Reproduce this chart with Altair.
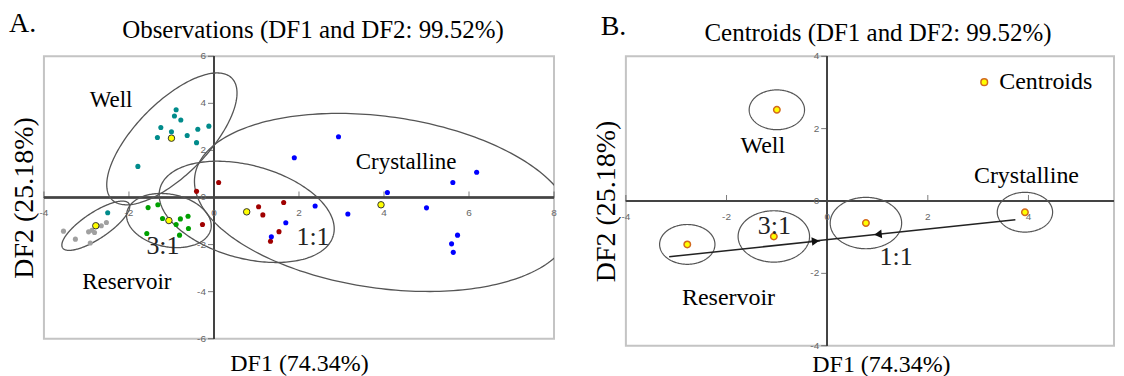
import altair as alt
import numpy as np
import pandas as pd

FONT = "Liberation Serif"
SANS = "Liberation Sans"

# ---------------- data ----------------
groups = ["Well", "Reservoir", "3:1", "1:1", "Crystalline"]
group_colors = ["#008b8b", "#a0a0a0", "#00a000", "#a00000", "#0000ff"]

well_x = [-0.89, -0.93, -0.78, -1.25, -1.00, -1.33, -0.63, -0.38, -0.12, -0.41, -1.79, -2.50]
well_y = [3.73, 3.46, 3.29, 2.97, 2.79, 2.55, 2.63, 2.90, 3.03, 2.33, 1.32, -0.65]
res_x = [-3.54, -3.26, -2.91, -2.95, -2.87, -2.81, -2.65, -2.53]
res_y = [-1.43, -1.77, -1.93, -1.46, -1.39, -1.49, -1.20, -1.06]
g31_x = [-1.55, -1.32, -1.21, -0.79, -0.61, -0.89, -1.58, -0.81, -0.60]
g31_y = [-0.43, -0.31, -0.89, -0.91, -0.80, -1.15, -1.53, -1.60, -1.32]
g11_x = [0.11, -0.41, 1.05, 1.15, 1.64, -0.27, 1.53, 1.33]
g11_y = [0.64, 0.26, -0.39, -0.74, -0.21, -1.15, -1.45, -1.86]
cry_x = [1.89, 2.93, 2.38, 3.15, 1.69, 1.35, 6.18, 5.62, 4.08, 5.00, 5.73, 5.59, 5.63]
cry_y = [1.69, 2.58, -0.36, -0.70, -1.07, -1.67, 1.07, 0.64, 0.21, -0.44, -1.60, -1.97, -2.33]

centroid_x = [-1.00, -2.78, -1.06, 0.77, 3.93]
centroid_y = [2.52, -1.20, -0.98, -0.61, -0.31]

# confidence ellipses of panel A (centre and two conjugate semi-diameters)
ellA_cx = [-0.99, -2.78, -1.06, 0.77, 3.98]
ellA_cy = [2.49, -1.20, -0.98, -0.61, -0.21]
ellA_ux = [1.41, 0.78, 0.99, 2.04, 4.43]
ellA_uy = [2.58, 0.94, -0.34, -0.99, -1.13]
ellA_vx = [0.60, 0.17, -0.11, -0.28, -0.28]
ellA_vy = [-1.09, -0.46, -1.10, -1.91, -3.61]

# confidence circles of panel B
circB_r = [0.55, 0.55, 0.71, 0.71, 0.55]

site_labels = ["Well", "Reservoir", "Crystalline"]
siteA_x = [-2.42, -2.05, 4.52]
siteA_y = [4.16, -3.60, 1.50]
siteB_x = [-1.28, -1.96, 3.96]
siteB_y = [1.52, -2.67, 0.69]
ratio_labels = ["3:1", "1:1"]
ratioA_x = [-1.20, 2.33]
ratioA_y = [-2.06, -1.67]
ratioB_x = [-1.05, 1.37]
ratioB_y = [-0.69, -1.54]

# mixing arrows of panel B
arrow_x1 = [-3.14, 3.74]
arrow_y1 = [-1.54, -0.52]
arrow_x2 = [-0.14, -0.35]
arrow_y2 = [-1.10, -1.12]
head_x = [-0.23, 1.01]
head_y = [-1.11, -0.92]
head_shape = ["triangle-right", "triangle-left"]

ticksA_x = [-4, -2, 0, 2, 4, 6, 8]
ticksA_y = [-6, -4, -2, 0, 2, 4, 6]
ticksB_x = [-4, -2, 0, 2, 4]
ticksB_y = [-4, -2, 0, 2, 4]

domA_x, domA_y = [-4, 8], [-6, 6]
domB_x, domB_y = [-4, 5.7], [-4, 4]

panel_letters = ["A.", "B."]
letterA_xy = (-4.82, 7.04)
letterB_xy = (-4.50, 4.60)
panel_titles = ["Observations (DF1 and DF2: 99.52%)", "Centroids (DF1 and DF2: 99.52%)"]
titleA_xy = (2.33, 6.76)
titleB_xy = (1.01, 4.42)

# ---------------- tables ----------------
ptsA = pd.DataFrame({
    "x": well_x + res_x + g31_x + g11_x + cry_x,
    "y": well_y + res_y + g31_y + g11_y + cry_y,
    "group": ["Well"] * len(well_x) + ["Reservoir"] * len(res_x) + ["3:1"] * len(g31_x)
    + ["1:1"] * len(g11_x) + ["Crystalline"] * len(cry_x),
})
cent = pd.DataFrame({"x": centroid_x, "y": centroid_y, "group": groups, "kind": "Centroids"})

tt = np.linspace(0, 2 * np.pi, 241)
rows = []
for g, cx, cy, ux, uy, vx, vy in zip(groups, ellA_cx, ellA_cy, ellA_ux, ellA_uy, ellA_vx, ellA_vy):
    for i, t in enumerate(tt):
        rows.append({"group": g, "i": i, "x": cx + ux * np.cos(t) + vx * np.sin(t),
                     "y": cy + uy * np.cos(t) + vy * np.sin(t)})
ellA = pd.DataFrame(rows)
rows = []
for g, cx, cy, r in zip(groups, centroid_x, centroid_y, circB_r):
    for i, t in enumerate(tt):
        rows.append({"group": g, "i": i, "x": cx + r * np.cos(t), "y": cy + r * np.sin(t)})
ellB = pd.DataFrame(rows)

arrows = pd.DataFrame({"x": arrow_x1, "y": arrow_y1, "x2": arrow_x2, "y2": arrow_y2})
heads = pd.DataFrame({"x": head_x, "y": head_y, "shape": head_shape})


def panel(dom_x, dom_y, tx, ty, xpad, ypad, xtitle_shift, width, letter, letter_xy, title, title_xy):
    ax_x = alt.Axis(title="DF1 (74.34%)", titlePadding=xpad, titleFontSize=24,
                    titleX=width / 2 + xtitle_shift)
    ax_y = alt.Axis(title="DF2 (25.18%)", titlePadding=ypad, titleFontSize=28)
    sx = alt.Scale(domain=dom_x, nice=False, zero=False)
    sy = alt.Scale(domain=dom_y, nice=False, zero=False)

    def X(f="x"):
        return alt.X(f"{f}:Q", scale=sx, axis=ax_x)

    def Y(f="y"):
        return alt.Y(f"{f}:Q", scale=sy, axis=ax_y)

    X0 = alt.XDatum(0, scale=sx, axis=ax_x)
    Y0 = alt.YDatum(0, scale=sy, axis=ax_y)
    tdx = pd.DataFrame({"x": tx, "lab": [str(v) for v in tx]})
    tdy = pd.DataFrame({"y": ty, "lab": [str(v) for v in ty]})

    hline = alt.Chart(tdx).mark_rule(color="#444", strokeWidth=1.5).encode(y=Y0)
    vline = alt.Chart(tdy).mark_rule(color="#444", strokeWidth=1.5).encode(x=X0)
    xt = alt.Chart(tdx).mark_tick(orient="vertical", size=6, thickness=1, color="#444", yOffset=-3).encode(x=X(), y=Y0)
    yt = alt.Chart(tdy).mark_tick(orient="horizontal", size=6, thickness=1, color="#444", xOffset=-3).encode(x=X0, y=Y())
    xl = alt.Chart(tdx).mark_text(dy=16, font=SANS, fontSize=10, color="#666").encode(x=X(), y=Y0, text="lab:N")
    yl = alt.Chart(tdy).mark_text(dx=-8, align="right", baseline="middle", font=SANS, fontSize=10,
                                  color="#666").encode(x=X0, y=Y(), text="lab:N")
    let = alt.Chart(pd.DataFrame({"x": [letter_xy[0]], "y": [letter_xy[1]], "t": [letter]})).mark_text(
        font=FONT, fontSize=28, color="black", align="left", baseline="alphabetic").encode(x=X(), y=Y(), text="t:N")
    tit = alt.Chart(pd.DataFrame({"x": [title_xy[0]], "y": [title_xy[1]], "t": [title]})).mark_text(
        font=FONT, fontSize=25, color="black", align="center", baseline="alphabetic").encode(x=X(), y=Y(), text="t:N")
    layers = [hline, vline, xt, yt, xl, yl, let, tit]
    return layers, X, Y


# ---------------- panel A ----------------
layA, XA, YA = panel(domA_x, domA_y, ticksA_x, ticksA_y, 13, 5, 0, 511,
                     panel_letters[0], letterA_xy, panel_titles[0], titleA_xy)
ellA_l = alt.Chart(ellA).mark_line(clip=True, color="#555", strokeWidth=1.3).encode(
    x=XA(), y=YA(), detail="group:N", order="i:Q")
ptsA_l = alt.Chart(ptsA).mark_circle(size=26, opacity=1).encode(
    x=XA(), y=YA(), color=alt.Color("group:N", scale=alt.Scale(domain=groups, range=group_colors), legend=None))
centA_l = alt.Chart(cent).mark_point(filled=True, size=42, fill="#ffff00", stroke="#333", strokeWidth=1,
                                     opacity=1, shape="circle").encode(x=XA(), y=YA())
siteA_l = alt.Chart(pd.DataFrame({"x": siteA_x, "y": siteA_y, "t": site_labels})).mark_text(
    font=FONT, fontSize=23, color="black", baseline="middle").encode(x=XA(), y=YA(), text="t:N")
ratioA_l = alt.Chart(pd.DataFrame({"x": ratioA_x, "y": ratioA_y, "t": ratio_labels})).mark_text(
    font=FONT, fontSize=26, color="#222", baseline="middle").encode(x=XA(), y=YA(), text="t:N")

chartA = alt.layer(*layA, ellA_l, ptsA_l, centA_l, siteA_l, ratioA_l).properties(width=511, height=283)

# ---------------- panel B ----------------
layB, XB, YB = panel(domB_x, domB_y, ticksB_x, ticksB_y, 7, 5, 11, 489,
                     panel_letters[1], letterB_xy, panel_titles[1], titleB_xy)
ellB_l = alt.Chart(ellB).mark_line(clip=True, color="#555", strokeWidth=1.2).encode(
    x=XB(), y=YB(), detail="group:N", order="i:Q")
arr_l = alt.Chart(arrows).mark_rule(color="#222", strokeWidth=1.6).encode(x=XB(), y=YB(), x2="x2:Q", y2="y2:Q")
head_l = alt.Chart(heads).mark_point(filled=True, size=75, color="#111", opacity=1, angle=354).encode(
    x=XB(), y=YB(), shape=alt.Shape("shape:N", scale=None))
centB_l = alt.Chart(cent).mark_point(filled=True, size=42, stroke="#d2691e", strokeWidth=1.5, opacity=1,
                                     shape="circle").encode(
    x=XB(), y=YB(),
    fill=alt.Fill("kind:N", scale=alt.Scale(domain=["Centroids"], range=["#ffff00"]),
                  legend=alt.Legend(title=None, orient="none", legendX=347, legendY=14,
                                    labelFont=FONT, labelFontSize=24,
                                    labelColor="black", symbolType="circle", symbolSize=45,
                                    symbolStrokeColor="#d2691e", symbolStrokeWidth=1.5,
                                    symbolFillColor="#ffff00", padding=0, labelOffset=3)))
siteB_l = alt.Chart(pd.DataFrame({"x": siteB_x, "y": siteB_y, "t": site_labels})).mark_text(
    font=FONT, fontSize=24, color="black", baseline="middle").encode(x=XB(), y=YB(), text="t:N")
ratioB_l = alt.Chart(pd.DataFrame({"x": ratioB_x, "y": ratioB_y, "t": ratio_labels})).mark_text(
    font=FONT, fontSize=26, color="#222", baseline="middle").encode(x=XB(), y=YB(), text="t:N")

chartB = alt.layer(*layB, ellB_l, arr_l, head_l, centB_l, siteB_l, ratioB_l).properties(width=489, height=290)

chart = alt.hconcat(chartA, chartB, spacing=34).resolve_scale(
    color="independent", fill="independent"
).resolve_legend(color="independent", fill="independent").properties(
    padding={"left": 0, "top": 0, "right": 0, "bottom": 0}
).configure_view(stroke="#c4c4c4", strokeWidth=2).configure_axis(
    grid=False, labels=False, ticks=False, domain=False, titleFont=FONT, titleFontWeight="normal",
    titleColor="black", minExtent=0
)

chart.save("out.html", embed_options={"renderer": "svg", "actions": False})
